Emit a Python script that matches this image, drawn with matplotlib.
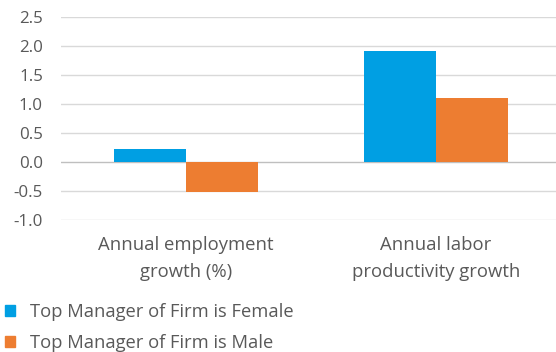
import matplotlib
matplotlib.use("Agg")
import matplotlib.pyplot as plt
from matplotlib.patches import Patch

plt.rcParams['font.family'] = ['Open Sans', 'DejaVu Sans']

categories = ["Annual employment\ngrowth (%)", "Annual labor\nproductivity growth"]
series_names = ["Top Manager of Firm is Female", "Top Manager of Firm is Male"]
female = [0.23, 1.91]
male = [-0.52, 1.11]
colors = ["#009FE3", "#ED7D31"]
yticks = [-1.0, -0.5, 0.0, 0.5, 1.0, 1.5, 2.0, 2.5]

W, H = 556, 352
fig = plt.figure(figsize=(W / 100, H / 100), dpi=100)
ax = fig.add_axes([61 / W, 1 - 220 / H, (W - 61) / W, (220 - 17) / H])

text_color = "#595959"
bw = 0.288
x = list(range(len(categories)))
ax.bar([i - bw / 2 for i in x], female, width=bw, color=colors[0], zorder=3)
ax.bar([i + bw / 2 for i in x], male, width=bw, color=colors[1], zorder=3)

ax.set_ylim(-1.0, 2.5)
ax.set_xlim(-0.5, 1.48)
ax.set_yticks(yticks)
ax.set_yticklabels([f"{v:.1f}" for v in yticks])
ax.set_xticks(x)
ax.set_xticklabels(categories, linespacing=1.68)
for v in yticks:
    ax.axhline(v, color="#bfbfbf" if v == 0 else "#d9d9d9", lw=1.0, zorder=1)

ax.tick_params(axis="y", length=0, pad=13, labelsize=12.2, labelcolor=text_color)
ax.tick_params(axis="x", length=0, pad=11.5, labelsize=13.3, labelcolor=text_color)
for s in ax.spines.values():
    s.set_visible(False)

handles = [Patch(color=c) for c in colors]
fig.legend(handles, series_names, loc="upper left", bbox_to_anchor=(-0.004, 1 - 296 / H),
           frameon=False, fontsize=13.2, labelcolor=text_color,
           handlelength=0.55, handleheight=0.55, handletextpad=0.82, labelspacing=0.7,
           borderaxespad=0)

fig.savefig("out.png", dpi=100)
